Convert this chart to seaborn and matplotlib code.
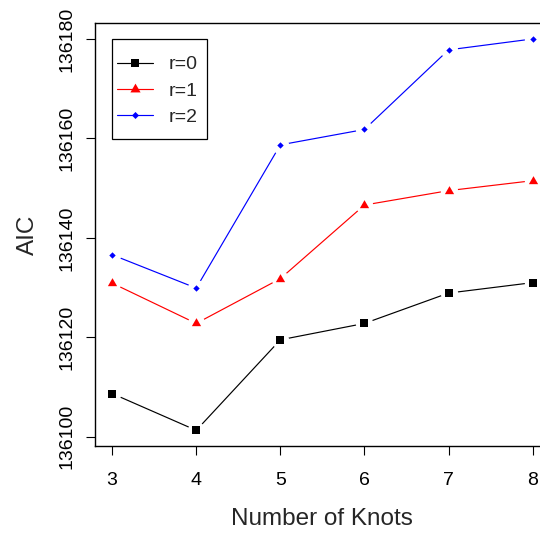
import numpy as np
import pandas as pd
import matplotlib
matplotlib.use("Agg")
import matplotlib.pyplot as plt
from matplotlib.path import Path
from matplotlib.lines import Line2D
from matplotlib.patches import Rectangle
import seaborn as sns

# AIC by number of knots, for each value of r
knots = [3, 4, 5, 6, 7, 8]
aic_r0 = [136108.7, 136101.3, 136119.5, 136122.8, 136128.9, 136131.0]
aic_r1 = [136130.9, 136122.8, 136131.8, 136146.6, 136149.5, 136151.5]
aic_r2 = [136136.6, 136129.9, 136158.7, 136161.8, 136177.8, 136180.0]
series_labels = ["r=0", "r=1", "r=2"]
y_ticks = [136100, 136120, 136140, 136160, 136180]

sns.set_style("ticks")
plt.rcParams["font.family"] = ["Liberation Sans", "DejaVu Sans"]

df = pd.DataFrame({
    "knots": knots * 3,
    "aic": aic_r0 + aic_r1 + aic_r2,
    "r": [lab for lab in series_labels for _ in knots],
})

tri = Path([(0, 1), (-0.866, -0.5), (0.866, -0.5), (0, 1)],
           [Path.MOVETO, Path.LINETO, Path.LINETO, Path.CLOSEPOLY])
dia = Path([(0, 1), (1, 0), (0, -1), (-1, 0), (0, 1)],
           [Path.MOVETO, Path.LINETO, Path.LINETO, Path.LINETO, Path.CLOSEPOLY])
styles = {
    "r=0": dict(color="black", marker="s", ms=5.8),
    "r=1": dict(color="red", marker=tri, ms=7.7),
    "r=2": dict(color="blue", marker=dia, ms=4.6),
}

fig = plt.figure(figsize=(5.4, 5.34), dpi=100)
ax = fig.add_axes([0.1765, 0.1648, 0.841, 0.7916])

for lab in series_labels:
    sub = df[df["r"] == lab]
    st = styles[lab]
    # connecting line, broken around each point by a white disc
    sns.lineplot(data=sub, x="knots", y="aic", ax=ax, color=st["color"],
                 lw=0.85, marker="o", markersize=12.5, markerfacecolor="white",
                 markeredgecolor="white", markeredgewidth=0, legend=False)
    sns.lineplot(data=sub, x="knots", y="aic", ax=ax, color=st["color"],
                 lw=0, marker=st["marker"], markersize=st["ms"],
                 markerfacecolor=st["color"], markeredgewidth=0, legend=False)

all_y = np.array(aic_r0 + aic_r1 + aic_r2)
pad_y = 0.04 * (all_y.max() - all_y.min())
ax.set_ylim(all_y.min() - pad_y, all_y.max() + pad_y)
ax.set_xlim(min(knots) - 0.2, max(knots) + 0.2)

ax.set_xticks(knots)
ax.set_xticklabels([str(k) for k in knots])
ax.set_yticks(y_ticks)
ax.set_yticklabels([str(v) for v in y_ticks], rotation=90, va="center")
ax.tick_params(axis="both", direction="out", length=6.5, width=0.8,
               labelsize=14, colors="black")
ax.tick_params(axis="x", pad=12.5)
ax.tick_params(axis="y", pad=8)
for s in ax.spines.values():
    s.set_color("black")
    s.set_linewidth(1.0)

ax.set_xlabel("Number of Knots", fontsize=17.5, labelpad=13.5)
ax.set_ylabel("AIC", fontsize=17.5, labelpad=14)

handles = [Line2D([0], [0], color=styles[l]["color"], lw=0.85,
                  marker=styles[l]["marker"], markersize=styles[l]["ms"] * 1.1,
                  markeredgewidth=0) for l in series_labels]
leg = ax.legend(handles, series_labels, loc="center left",
                bbox_to_anchor=(0.0471, 0.8399), borderaxespad=0,
                fontsize=14, frameon=False, handlelength=1.85,
                handletextpad=0.82, labelspacing=0.45, borderpad=0)
# legend frame
ax.add_patch(Rectangle((0.0368, 0.7263), 0.2098, 0.2365, transform=ax.transAxes,
                       fill=False, edgecolor="black", lw=0.9, zorder=5))

fig.savefig("out.png", dpi=100)
